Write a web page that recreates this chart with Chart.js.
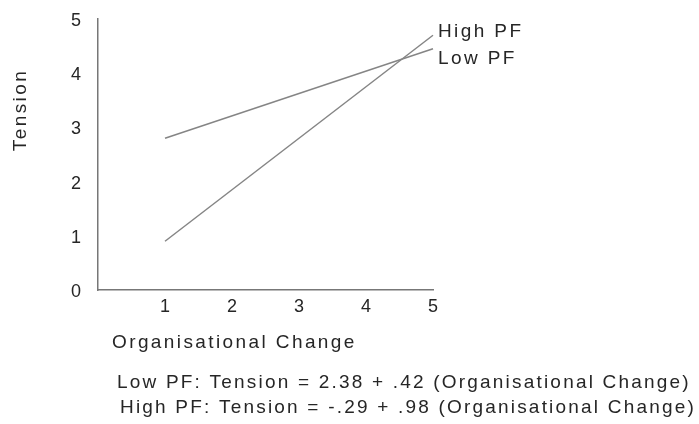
<!DOCTYPE html>
<html>
<head>
<meta charset="utf-8">
<script src="https://cdn.jsdelivr.net/npm/chart.js@4"></script>
<style>
  body { margin: 0; background: #fff; }
  #wrap { width: 699px; height: 424px; position: relative; }
</style>
</head>
<body>
<div id="wrap"><canvas id="chart"></canvas></div>
<script>
// Chart values
const xTicks = [1, 2, 3, 4, 5];
const yTicks = [0, 1, 2, 3, 4, 5];
const orgChange = [1, 5];
const lowPF = [2.8, 4.45];
const highPF = [0.9, 4.7];
const seriesNames = ['Low PF', 'High PF'];
const xTitle = 'Organisational Change';
const yTitle = 'Tension';
const equations = [
  'Low PF: Tension = 2.38 + .42 (Organisational Change)',
  'High PF: Tension = -.29 + .98 (Organisational Change)'
];

const FONT = '"Liberation Sans", Arial, Helvetica, sans-serif';
const TEXT = '#262626';
const LINE = '#858585';

function toPoints(ys) {
  return orgChange.map((x, i) => ({ x: x, y: ys[i] }));
}

// Draw end labels, axis titles and the equations underneath
const textPlugin = {
  id: 'texts',
  afterDraw(chart) {
    const ctx = chart.ctx;
    const area = chart.chartArea;
    ctx.save();
    ctx.fillStyle = TEXT;
    ctx.font = '19px ' + FONT;
    ctx.letterSpacing = '2.4px';
    ctx.textBaseline = 'middle';
    ctx.textAlign = 'left';

    // series labels at the end of each line
    const offsets = [10, -3];
    chart.data.datasets.forEach((ds, i) => {
      const pts = chart.getDatasetMeta(i).data;
      const last = pts[pts.length - 1];
      ctx.fillText(ds.label, last.x + 5, last.y + offsets[i]);
    });

    // x-axis title
    ctx.fillText(xTitle, area.left + 14, area.bottom + 53);

    // y-axis title (rotated)
    ctx.save();
    ctx.translate(21, 110);
    ctx.rotate(-Math.PI / 2);
    ctx.textAlign = 'center';
    ctx.fillText(yTitle, 0, 0);
    ctx.restore();

    // regression equations
    ctx.letterSpacing = '2.2px';
    ctx.fillText(equations[0], 117, 383);
    ctx.fillText(equations[1], 120, 408);
    ctx.restore();
  }
};

new Chart(document.getElementById('chart'), {
  type: 'line',
  data: {
    datasets: [
      { label: seriesNames[0], data: toPoints(lowPF) },
      { label: seriesNames[1], data: toPoints(highPF) }
    ]
  },
  options: {
    responsive: true,
    maintainAspectRatio: false,
    animation: false,
    layout: { padding: { left: 0, top: 19, right: 266, bottom: 0 } },
    elements: {
      line: { borderColor: LINE, borderWidth: 1.5, tension: 0 },
      point: { radius: 0 }
    },
    datasets: { line: { clip: false } },
    plugins: {
      legend: { display: false },
      tooltip: { enabled: false }
    },
    scales: {
      x: {
        type: 'linear',
        min: 0,
        max: 5,
        afterBuildTicks: s => { s.ticks = xTicks.map(v => ({ value: v })); },
        afterFit: s => { s.height = 134; s.paddingLeft = 0; s.paddingRight = 0; },
        grid: { display: false, drawTicks: false },
        border: { display: true, color: '#777', width: 1.5 },
        ticks: { color: TEXT, font: { family: FONT, size: 18 }, padding: 6, maxRotation: 0 }
      },
      y: {
        min: 0,
        max: 5,
        afterBuildTicks: s => { s.ticks = yTicks.map(v => ({ value: v })); },
        afterFit: s => { s.width = 98; s.paddingTop = 0; s.paddingBottom = 0; },
        grid: { display: false, drawTicks: false },
        border: { display: true, color: '#777', width: 1.5 },
        ticks: { color: TEXT, font: { family: FONT, size: 18 }, padding: 17, labelOffset: 2 }
      }
    }
  },
  plugins: [textPlugin]
});
</script>
</body>
</html>
